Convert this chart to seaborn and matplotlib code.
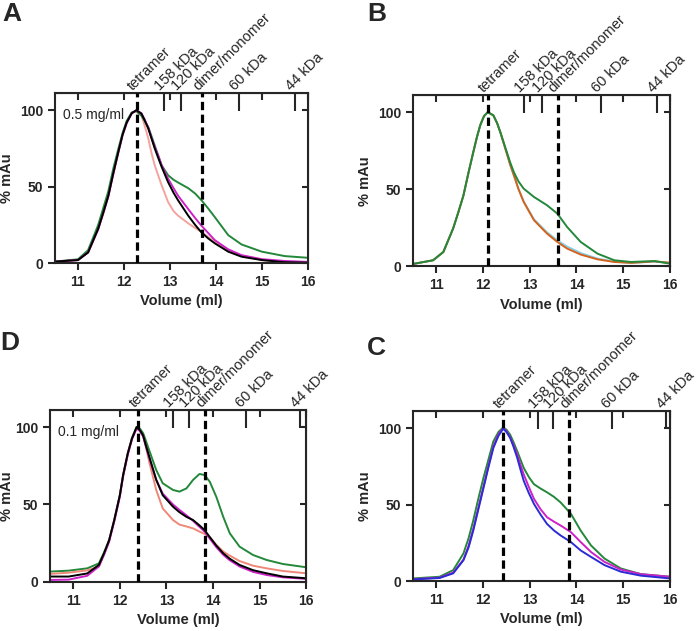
import matplotlib
matplotlib.use("Agg")
import matplotlib.pyplot as plt
import seaborn as sns

# marker labels on the top axis
marker_names = ["tetramer", "158 kDa", "120 kDa", "dimer/monomer", "60 kDa", "44 kDa"]

# panel A (0.5 mg/ml)
a_markers = [12.28, 12.87, 13.25, 13.7, 14.5, 15.72]
a_x = [10.5, 11.0, 11.22, 11.44, 11.55, 11.66, 11.77, 11.88, 11.97, 12.06, 12.17, 12.27,
       12.38, 12.45, 12.53, 12.6, 12.67, 12.75, 12.82, 12.96, 13.08, 13.18, 13.4, 13.55,
       13.69, 13.84, 13.98, 14.27, 14.56, 15.0, 15.5, 16.0]
a_black = [1, 2, 7, 22.6, 33, 44, 59, 73, 84, 92, 98, 100,
           97.8, 93.5, 88, 81.5, 75, 68.5, 63, 53, 46, 41, 31, 25,
           20, 16, 12.9, 7.5, 4.2, 2, 0.6, 0.3]
a_magenta = [1, 2, 7, 22, 32.5, 43.5, 58.5, 72.5, 83.5, 91.5, 98, 100,
             98, 94, 88.5, 82, 76, 70, 64, 55.3, 49, 44, 35.3, 29.5,
             24.4, 19.5, 15, 9, 5.2, 2.6, 1.4, 0.8]
a_green = [1, 2.5, 8.5, 25, 36, 47, 62, 75, 85, 93, 98.5, 99.5,
           96.5, 93, 89, 83, 77, 70, 64, 57.5, 54.5, 52.7, 49, 45.5,
           41, 35.5, 30, 18.3, 12.2, 7.5, 4.6, 3.5]
a_salmon = [1, 2, 7, 22.6, 33, 44, 59, 73, 84, 92, 98.5, 99,
            96.7, 90, 81.5, 72, 64, 57, 51, 40, 34, 31, 26, 23,
            20.4, 17, 14, 8.7, 5, 2, 0.8, 0.5]

# panel B
b_markers = [12.1, 12.88, 13.26, 13.6, 14.52, 15.72]
b_x = [10.5, 10.93, 11.15, 11.36, 11.47, 11.58, 11.69, 11.79, 11.87, 11.94, 12.02, 12.1,
       12.22, 12.3, 12.37, 12.44, 12.51, 12.58, 12.66, 12.76, 12.87, 13.09, 13.37, 13.59,
       13.8, 14.09, 14.45, 14.81, 15.17, 15.67, 16.0]
b_green = [1.5, 3.9, 9.3, 24.6, 35, 46, 61, 74, 84, 91.6, 97.5, 100,
           98, 93, 87, 80.5, 74, 67.5, 61, 55, 50.4, 45, 39.6, 34.2,
           25.5, 15.8, 8.2, 3.9, 2.8, 3.4, 1.7]
b_blue = [1.5, 3.9, 9.3, 24.6, 35, 46, 61, 74, 84, 91.6, 97.5, 100,
          98, 93, 87, 80, 73, 66, 59, 50, 42, 30.5, 22, 16.8,
          12.8, 8.6, 5, 3, 2.2, 3, 2.2]
b_orange = [1.5, 3.9, 9.3, 24.6, 35, 46, 61, 74, 84, 91.6, 97.5, 100,
            98, 93, 87, 80, 73, 66, 59, 50, 41.8, 29.9, 21.2, 15.8,
            11.5, 7.6, 4.5, 2.8, 2.2, 3.2, 2.3]

# panel D (0.1 mg/ml)
d_markers = [12.4, 13.14, 13.48, 13.83, 14.7, 15.87]
d_x = [10.5, 10.9, 11.3, 11.55, 11.66, 11.77, 11.88, 12.0, 12.07, 12.17, 12.26, 12.36,
       12.43, 12.5, 12.56, 12.63, 12.78, 12.92, 13.14, 13.28, 13.43, 13.57, 13.71, 13.82,
       13.93, 14.07, 14.22, 14.36, 14.57, 14.86, 15.15, 15.5, 16.0]
d_black = [3.5, 3.5, 5.5, 11, 18.5, 27, 40, 56, 69, 83, 92.6, 100,
           98, 94.5, 88, 81, 66, 56, 48.6, 45, 42, 40, 36.5, 33.5,
           29, 23.5, 18.5, 15, 11, 7.6, 5.6, 3.5, 2.4]
d_magenta = [1.3, 1.5, 4, 10, 17.5, 26, 39, 55, 68, 82, 92, 99,
             97.5, 94, 87.5, 80, 66, 57, 50, 46.5, 43, 39.5, 35.5, 32.5,
             28, 22.5, 17.5, 14, 10, 6.5, 4.5, 3, 2]
d_salmon = [5.2, 6, 7.5, 10, 18, 27, 40, 56, 69, 83, 92.5, 99.5,
            97.5, 94, 87, 77.6, 59.4, 47.5, 40, 37, 35.8, 34.6, 32.5, 31,
            29, 24, 19.6, 17, 13.5, 10.5, 8.8, 7.1, 5.6]
d_green = [6.7, 7.3, 8.8, 12, 19, 27, 40, 56, 69, 83, 93, 100,
           99, 96, 91, 85, 72.3, 63.7, 59.4, 58.3, 60.4, 65.8, 69.7, 69,
           64.7, 55, 42, 31.4, 22.8, 17.4, 14.2, 11.6, 9.5]

# panel C
c_markers = [12.42, 13.18, 13.5, 13.85, 14.75, 15.92]
c_x = [10.5, 11.07, 11.36, 11.58, 11.69, 11.79, 11.9, 12.01, 12.12, 12.22, 12.33, 12.43,
       12.5, 12.58, 12.65, 12.73, 12.8, 12.87, 12.98, 13.09, 13.23, 13.37, 13.52, 13.66,
       13.88, 14.09, 14.31, 14.6, 14.95, 15.38, 16.0]
c_green = [1.7, 2.8, 7.1, 18, 28, 39.6, 54, 67.6, 80, 91.3, 97.5, 100.4,
           99, 95.7, 91, 85, 79.5, 74, 68, 63.3, 60.5, 58, 55, 51.4,
           44, 33, 23.3, 14.7, 8.2, 4.5, 2.8]
c_blue = [1, 2, 5, 13.6, 22, 33, 47, 61, 75, 87, 95, 99.6,
          97.5, 93.6, 88, 80.7, 73, 65.6, 57.5, 50.4, 43.5, 37.3, 33, 29.8,
          25.5, 20, 15.8, 10.4, 6.1, 3.5, 1.7]
c_magenta = [1.2, 2.2, 5.5, 14, 23, 34, 48, 62, 76, 88, 96, 100,
             98, 94, 89, 82.8, 76, 69.8, 61.5, 53.7, 47, 41.7, 38.8, 36.3,
             32, 25.5, 19, 12.5, 7.5, 4.5, 2.8]

GREEN = "#23883a"
MAGENTA = "#cc22c8"
SALMON_A = "#f5a39e"
SALMON_D = "#ee8878"
ORANGE = "#d4621c"
LIGHTBLUE = "#86cfe6"
BLUE = "#2b2bd6"

sns.set_style("ticks")
plt.rcParams["font.family"] = ["Liberation Sans", "DejaVu Sans"]


def style_panel(ax, markers, note=None, ylabelpad=4):
    ax.set_xlim(10.5, 16)
    ax.set_ylim(0, 111)
    ax.set_xticks(range(11, 17))
    ax.set_yticks([0, 50, 100])
    ax.tick_params(direction="out", length=5, width=1.5, labelsize=10)
    for lab in ax.get_xticklabels() + ax.get_yticklabels():
        lab.set_fontweight("bold")
    for sp in ax.spines.values():
        sp.set_visible(True)
        sp.set_linewidth(1.5)
    ax.set_xlabel("Volume (ml)", fontsize=10.5, fontweight="bold", labelpad=4)
    ax.set_ylabel("% mAu", fontsize=10.5, fontweight="bold", labelpad=ylabelpad)

    # dashed lines at tetramer and dimer/monomer
    for v in (markers[0], markers[3]):
        ax.axvline(v, color="black", lw=2.3, ls=(0, (2.6, 1.4)), zorder=5)

    top = ax.secondary_xaxis("top")
    top.set_xticks([markers[1], markers[2], markers[4], markers[5]], labels=[""] * 4)
    top.set_xticks(range(11, 17), minor=True)
    top.tick_params(which="major", direction="in", length=13, width=1.5)
    top.tick_params(which="minor", direction="in", length=5, width=1.5)

    right = ax.secondary_yaxis("right")
    right.set_yticks([0, 50, 100], labels=[""] * 3)
    right.tick_params(direction="in", length=4.5, width=1.5)

    for name, v in zip(marker_names, markers):
        ax.annotate(name, xy=(v, 1), xycoords=("data", "axes fraction"),
                    xytext=(-3, 1.5), textcoords="offset points",
                    rotation=45, rotation_mode="anchor", ha="left", va="baseline",
                    fontsize=10.5)
    if note:
        ax.text(0.032, 0.87, note, transform=ax.transAxes, fontsize=10,
                ha="left", va="center")


def draw(ax, x, ys, colors, lw=1.4):
    for y, c in zip(ys, colors):
        sns.lineplot(x=x, y=y, color=c, lw=lw, ax=ax, estimator=None)


fig = plt.figure(figsize=(7, 6.31), dpi=100)
ax_a = fig.add_axes([0.0786, 0.583, 0.361, 0.269])
ax_b = fig.add_axes([0.590, 0.578, 0.367, 0.271])
ax_d = fig.add_axes([0.0714, 0.0777, 0.366, 0.2726])
ax_c = fig.add_axes([0.590, 0.0792, 0.367, 0.269])

draw(ax_a, a_x, [a_salmon, a_green, a_magenta, a_black],
     [SALMON_A, GREEN, MAGENTA, "black"])
style_panel(ax_a, a_markers, "0.5 mg/ml")

draw(ax_b, b_x, [b_blue, b_orange, b_green], [LIGHTBLUE, ORANGE, GREEN])
style_panel(ax_b, b_markers)

draw(ax_d, d_x, [d_green, d_salmon, d_magenta, d_black],
     [GREEN, SALMON_D, MAGENTA, "black"])
style_panel(ax_d, d_markers, "0.1 mg/ml", ylabelpad=1)

draw(ax_c, c_x, [c_green, c_magenta, c_blue], [GREEN, MAGENTA, BLUE])
style_panel(ax_c, c_markers)

for letter, (fx, fy) in zip("ABDC", [(0.003, 0.997), (0.524, 0.997),
                                       (0.0, 0.475), (0.524, 0.468)]):
    fig.text(fx, fy, letter, fontsize=19, fontweight="bold", ha="left", va="top")

fig.savefig("out.png", dpi=100)
